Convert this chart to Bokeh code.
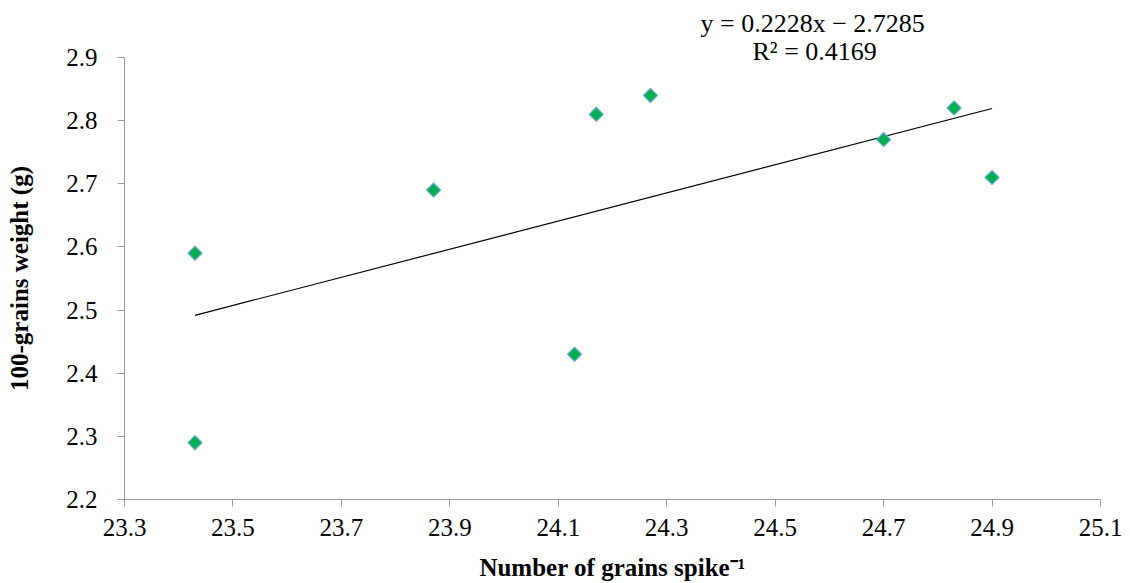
import math
from bokeh.plotting import figure
from bokeh.models import Range1d, Title, FixedTicker
from bokeh.embed import file_html
from bokeh.resources import INLINE

# data
grains = [23.43, 23.43, 23.87, 24.13, 24.17, 24.27, 24.70, 24.83, 24.90]
weight = [2.59, 2.29, 2.69, 2.43, 2.81, 2.84, 2.77, 2.82, 2.71]
slope = 0.2228
intercept = -2.7285
r2 = 0.4169
x_ticks = [23.3, 23.5, 23.7, 23.9, 24.1, 24.3, 24.5, 24.7, 24.9, 25.1]
y_ticks = [2.2, 2.3, 2.4, 2.5, 2.6, 2.7, 2.8, 2.9]

FONT = "Liberation Serif"

p = figure(width=1130, height=583, output_backend="svg", toolbar_location=None,
           x_range=Range1d(23.3, 25.1), y_range=Range1d(2.2, 2.9),
           min_border_left=124, min_border_right=30, min_border_top=57, min_border_bottom=84)
p.outline_line_color = None
p.grid.visible = False
p.background_fill_color = "white"
p.border_fill_color = "white"

p.axis.axis_line_color = "#999999"
p.axis.major_tick_line_color = "#999999"
p.axis.minor_tick_line_color = None
p.axis.major_tick_in = 0
p.axis.major_tick_out = 7
p.axis.major_label_text_font = FONT
p.axis.major_label_text_font_size = "25px"
p.axis.major_label_text_color = "black"
p.axis.axis_label_text_font = FONT
p.axis.axis_label_text_font_style = "bold"
p.axis.axis_label_text_font_size = "25px"
p.axis.axis_label_text_color = "black"

p.xaxis.ticker = FixedTicker(ticks=x_ticks)
p.yaxis.ticker = FixedTicker(ticks=y_ticks)
p.xaxis.major_label_overrides = {t: f"{t:.1f}" for t in x_ticks}
p.yaxis.major_label_overrides = {t: f"{t:.1f}" for t in y_ticks}
p.xaxis.major_label_standoff = 12
p.yaxis.major_label_standoff = 20
p.xaxis.axis_label = "Number of grains spike\u207b\u00b9"
p.yaxis.axis_label = "100-grains weight (g)"
p.xaxis.axis_label_standoff = 15
p.yaxis.axis_label_standoff = 30

# trendline
x0, x1 = min(grains), max(grains)
p.line([x0, x1], [slope * x0 + intercept, slope * x1 + intercept], line_color="black", line_width=1.2)

p.scatter(grains, weight, marker="square", angle=math.pi / 4, size=10, fill_color="#00B050",
          line_color="#6FA8DC", line_width=1.2)

eq1 = Title(text=f"y = {slope}x \u2212 {abs(intercept)}", align="left", offset=576,
            text_font=FONT, text_font_size="26px", text_font_style="normal", text_color="black",
            standoff=10)
eq2 = Title(text=f"R\u00b2 = {r2}", align="left", offset=628,
            text_font=FONT, text_font_size="26px", text_font_style="normal", text_color="black",
            standoff=-16)
p.add_layout(eq2, "above")
p.add_layout(eq1, "above")

open("out.html", "w").write(file_html(p, INLINE))
